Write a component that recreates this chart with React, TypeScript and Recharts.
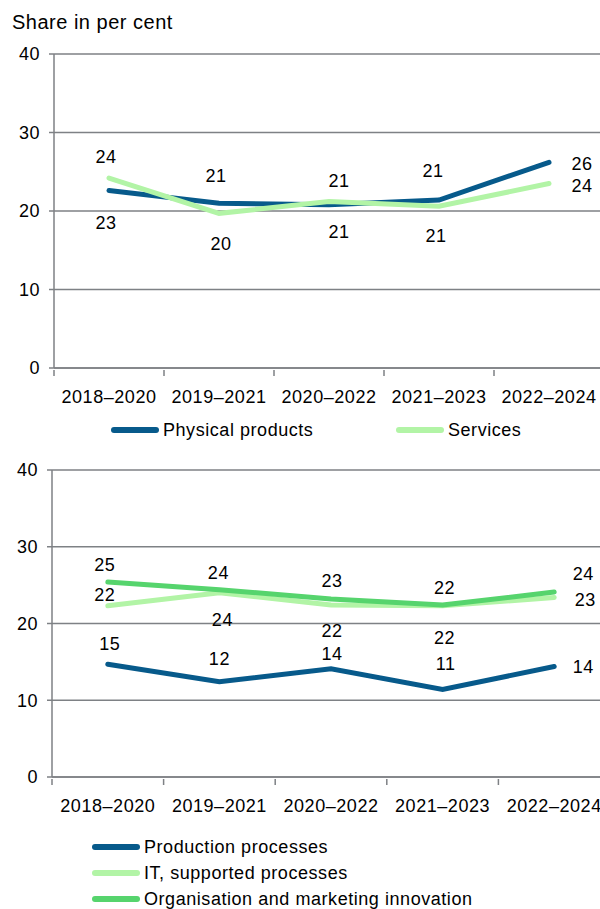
import { CartesianGrid, LabelList, Line, LineChart, XAxis, YAxis } from "recharts";

// Categories and values
const periods = ["2018–2020", "2019–2021", "2020–2022", "2021–2023", "2022–2024"];
const yTicks = [0, 10, 20, 30, 40];

const physicalProducts = [22.6, 21.0, 20.8, 21.4, 26.2];
const services = [24.2, 19.7, 21.2, 20.6, 23.5];

const productionProcesses = [14.7, 12.4, 14.1, 11.4, 14.4];
const itProcesses = [22.3, 24.0, 22.4, 22.3, 23.4];
const organisationMarketing = [25.4, 24.4, 23.2, 22.4, 24.1];

const topData = periods.map((period, i) => ({
  period,
  physical: physicalProducts[i],
  services: services[i],
}));

const bottomData = periods.map((period, i) => ({
  period,
  production: productionProcesses[i],
  it: itProcesses[i],
  org: organisationMarketing[i],
}));

// Colours
const DARK_BLUE = "#075a8b";
const LIGHT_GREEN = "#b2f4a6";
const MID_GREEN = "#56d46d";
const GRID = "#7e8185";
const FONT = "'Liberation Sans', Arial, sans-serif";
const SPACING = 0.55;

// label offsets [dx, dy] from each point
const physicalOffsets = [[-3, 32], [-3, -27], [10, 27], [-6, -29], [33, 2]];
const servicesOffsets = [[-3, -21], [2, 31], [10, -21], [-3, 30], [33, 2]];
const productionOffsets = [[2, -20], [0, -23], [1, -15], [3, -26], [29, 1]];
const itOffsets = [[-3, -11], [3, 27], [1, 26], [2, 32], [31, 3]];
const orgOffsets = [[-3, -17], [-1, -17], [1, -18], [2, -17], [29, -18]];

const renderLabel = (offsets: number[][]) => (props: any) => {
  const { x, y, value, index } = props;
  const [dx, dy] = offsets[index] || [0, -15];
  return (
    <text
      key={`lbl-${index}`}
      x={x + dx}
      y={y + dy}
      textAnchor="middle"
      dominantBaseline="central"
      fontSize={18}
      fontFamily={FONT}
      letterSpacing={SPACING}
      fill="#000"
    >
      {Math.round(Number(value))}
    </text>
  );
};

// x tick: tick mark on the category boundary, label in the middle
const makeCategoryTick = (band: number) => (props: any) => {
  const { x, y, payload } = props;
  return (
    <g>
      <line x1={x - band / 2} x2={x - band / 2} y1={y} y2={y + 6} stroke={GRID} strokeWidth={1.5} />
      <text
        x={x}
        y={y + 27}
        textAnchor="middle"
        dominantBaseline="central"
        fontSize={18}
        fontFamily={FONT}
        letterSpacing={SPACING}
        fill="#000"
      >
        {payload.value}
      </text>
    </g>
  );
};

const yTickStyle = { fontSize: 18, fontFamily: FONT, fill: "#000", letterSpacing: SPACING };

const LegendItem = ({ color, label, x, y }: { color: string; label: string; x: number; y: number }) => (
  <div style={{ position: "absolute", left: x, top: y - 12, height: 24, display: "flex", alignItems: "center" }}>
    <div style={{ width: 48, height: 6, borderRadius: 3, background: color, marginRight: 4 }} />
    <span style={{ fontSize: 18, fontFamily: FONT, color: "#000", whiteSpace: "nowrap", letterSpacing: SPACING }}>{label}</span>
  </div>
);

export default function App() {
  return (
    <div style={{ position: "absolute", left: 0, top: 0, width: 600, height: 909, background: "#fff", overflow: "hidden" }}>
      <div style={{ position: "absolute", left: 12, top: 10, fontSize: 20, lineHeight: "24px", fontFamily: FONT, color: "#000", letterSpacing: 0.5 }}>
        Share in per cent
      </div>

      {/* top chart */}
      <div style={{ position: "absolute", left: 0, top: 0 }}>
        <LineChart width={600} height={440} data={topData} margin={{ top: 54, right: -4, bottom: 0, left: 9 }}>
          <CartesianGrid vertical={false} stroke={GRID} strokeWidth={1.5} />
          <XAxis
            dataKey="period"
            scale="band"
            height={72}
            axisLine={{ stroke: GRID, strokeWidth: 1.5 }}
            tickLine={false}
            tickSize={0}
            tick={makeCategoryTick(110)}
            interval={0}
          />
          <YAxis
            width={45}
            domain={[0, 40]}
            ticks={yTicks}
            axisLine={{ stroke: GRID, strokeWidth: 1.5 }}
            tickLine={{ stroke: GRID, strokeWidth: 1.5 }}
            tickSize={5}
            tickMargin={9}
            tick={yTickStyle}
          />
          <Line type="linear" dataKey="physical" stroke={DARK_BLUE} strokeWidth={5} strokeLinecap="round" dot={false} isAnimationActive={false}>
            <LabelList dataKey="physical" content={renderLabel(physicalOffsets)} />
          </Line>
          <Line type="linear" dataKey="services" stroke={LIGHT_GREEN} strokeWidth={5} strokeLinecap="round" dot={false} isAnimationActive={false}>
            <LabelList dataKey="services" content={renderLabel(servicesOffsets)} />
          </Line>
        </LineChart>
      </div>
      <LegendItem color={DARK_BLUE} label="Physical products" x={111} y={430} />
      <LegendItem color={LIGHT_GREEN} label="Services" x={396} y={430} />

      {/* bottom chart */}
      <div style={{ position: "absolute", left: 0, top: 440 }}>
        <LineChart width={600} height={397} data={bottomData} margin={{ top: 30, right: -10, bottom: 0, left: 7 }}>
          <CartesianGrid vertical={false} stroke={GRID} strokeWidth={1.5} />
          <XAxis
            dataKey="period"
            scale="band"
            height={60}
            axisLine={{ stroke: GRID, strokeWidth: 1.5 }}
            tickLine={false}
            tickSize={0}
            tick={makeCategoryTick(111.6)}
            interval={0}
          />
          <YAxis
            width={45}
            domain={[0, 40]}
            ticks={yTicks}
            axisLine={{ stroke: GRID, strokeWidth: 1.5 }}
            tickLine={{ stroke: GRID, strokeWidth: 1.5 }}
            tickSize={5}
            tickMargin={9}
            tick={yTickStyle}
          />
          <Line type="linear" dataKey="production" stroke={DARK_BLUE} strokeWidth={5} strokeLinecap="round" dot={false} isAnimationActive={false}>
            <LabelList dataKey="production" content={renderLabel(productionOffsets)} />
          </Line>
          <Line type="linear" dataKey="it" stroke={LIGHT_GREEN} strokeWidth={5} strokeLinecap="round" dot={false} isAnimationActive={false}>
            <LabelList dataKey="it" content={renderLabel(itOffsets)} />
          </Line>
          <Line type="linear" dataKey="org" stroke={MID_GREEN} strokeWidth={5} strokeLinecap="round" dot={false} isAnimationActive={false}>
            <LabelList dataKey="org" content={renderLabel(orgOffsets)} />
          </Line>
        </LineChart>
      </div>
      <LegendItem color={DARK_BLUE} label="Production processes" x={92} y={847} />
      <LegendItem color={LIGHT_GREEN} label="IT, supported processes" x={92} y={873} />
      <LegendItem color={MID_GREEN} label="Organisation and marketing innovation" x={92} y={899} />
    </div>
  );
}
